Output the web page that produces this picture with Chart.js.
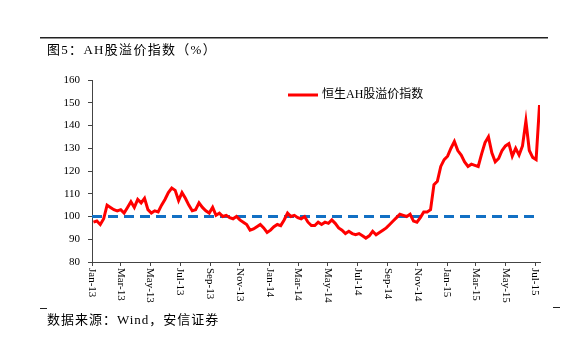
<!DOCTYPE html>
<html>
  <head>
    <meta charset="utf-8" />
    <script src="https://cdn.jsdelivr.net/npm/chart.js@4"></script>
    <style>
      body { margin: 0; background: #fff; }
      #wrap { width: 582px; height: 343px; }
    </style>
  </head>
  <body>
    <div id="wrap"><canvas id="canvas"></canvas></div>
    <script>
      // weekly readings of the Hang Seng AH premium index, first one on 2013-01-04
      const firstWeek = '2013-01-04';
      const premium = [
        97.5, 98, 96.5, 99, 105, 104, 103, 102.5, 103, 101.5,
        104, 106.5, 104, 107.5, 106, 108, 103, 101.5, 102.5, 102,
        105, 107.5, 110.5, 112.5, 111.5, 107, 110.5, 108, 105, 102.5,
        103, 106, 104, 102.5, 101.5, 104, 100.5, 101.5, 100, 100.5,
        99.5, 99, 100, 98.5, 97.5, 96.5, 94, 94.5, 95.5, 96.5,
        95, 93, 94, 95.5, 96.5, 96, 98.5, 101.5, 100, 100.5,
        99.5, 99, 100, 97.5, 96, 96, 97.5, 96.5, 97.5, 97,
        98.5, 97, 95, 94, 92.5, 93.5, 92.5, 92, 92.5, 91.5,
        90.5, 91.5, 93.5, 92, 93, 94, 95, 96.5, 98, 99.5,
        101, 100.5, 100, 101, 98, 97.5, 99.5, 102, 102, 103,
        114, 115.5, 122, 125, 126.5, 130, 133, 129, 127, 124,
        122, 123, 122.5, 122, 127.5, 132.5, 135, 128, 124, 125.5,
        129, 131, 132, 126.5, 130, 127, 131, 142, 129, 126,
        125, 149
      ];
      const baseline = 100;
      const tickLabels = ['Jan-13', 'Mar-13', 'May-13', 'Jul-13', 'Sep-13', 'Nov-13',
        'Jan-14', 'Mar-14', 'May-14', 'Jul-14', 'Sep-14', 'Nov-14',
        'Jan-15', 'Mar-15', 'May-15', 'Jul-15'];
      const yMin = 80, yMax = 160, yStep = 10;
      const lastDay = '2015-07-11';

      const months = ['Jan', 'Feb', 'Mar', 'Apr', 'May', 'Jun', 'Jul', 'Aug', 'Sep', 'Oct', 'Nov', 'Dec'];
      const day0 = Date.UTC(2013, 0, 1);
      const dayOf = (s) => (Date.parse(s + 'T00:00:00Z') - day0) / 864e5;
      const tickDays = tickLabels.map((l) => {
        const [m, y] = l.split('-');
        return (Date.UTC(2000 + Number(y), months.indexOf(m), 1) - day0) / 864e5;
      });
      const start = dayOf(firstWeek);
      const xMax = dayOf(lastDay);

      const serif = '"Liberation Serif", "Noto Sans CJK SC"';

      const decor = {
        id: 'decor',
        afterDraw(chart) {
          const ctx = chart.ctx, xs = chart.scales.x, area = chart.chartArea;
          ctx.save();
          ctx.fillStyle = '#000';
          // month labels, reading top to bottom
          ctx.font = '11px ' + serif;
          ctx.textAlign = 'left';
          ctx.textBaseline = 'middle';
          tickDays.forEach((d, i) => {
            ctx.save();
            ctx.translate(xs.getPixelForValue(d), area.bottom + 6);
            ctx.rotate(Math.PI / 2);
            ctx.fillText(tickLabels[i], 0, 0);
            ctx.restore();
          });
          // legend
          ctx.strokeStyle = '#ff0000';
          ctx.lineWidth = 3;
          ctx.beginPath();
          ctx.moveTo(288, 95);
          ctx.lineTo(318, 95);
          ctx.stroke();
          ctx.font = '12px ' + serif;
          ctx.fillText('恒生AH股溢价指数', 322, 95);
          // title, source and rules
          ctx.font = '13px ' + serif;
          ctx.letterSpacing = '1.3px';
          ctx.fillText('图5：AH股溢价指数（%）', 47, 51);
          ctx.letterSpacing = '1px';
          ctx.fillText('数据来源：Wind，安信证券', 47, 321);
          ctx.fillStyle = '#222';
          ctx.fillRect(40, 37, 508, 1.5);
          ctx.fillRect(40, 308, 7, 1);
          ctx.fillRect(553, 307, 7, 1);
          ctx.restore();
        }
      };

      new Chart(document.getElementById('canvas'), {
        type: 'line',
        data: {
          datasets: [
            {
              label: '恒生AH股溢价指数',
              data: premium.map((v, i) => ({ x: start + 7 * i, y: v })),
              borderColor: '#ff0000',
              borderWidth: 3,
              pointRadius: 0,
              tension: 0,
            },
            {
              label: 'baseline',
              data: [{ x: 0, y: baseline }, { x: xMax, y: baseline }],
              borderColor: '#1270c4',
              borderWidth: 3,
              borderDash: [10, 6],
              pointRadius: 0,
            },
          ],
        },
        options: {
          responsive: true,
          maintainAspectRatio: false,
          animation: false,
          layout: { padding: { top: 80, right: 42, left: 0, bottom: 0 } },
          plugins: { legend: { display: false }, tooltip: { enabled: false } },
          scales: {
            x: {
              type: 'linear',
              min: 0,
              max: xMax,
              afterBuildTicks: (s) => { s.ticks = tickDays.map((v) => ({ value: v })); },
              afterFit: (s) => { s.height = 81; },
              ticks: { display: false },
              grid: { drawOnChartArea: false, tickLength: 4, color: '#444' },
              border: { color: '#444' },
            },
            y: {
              min: yMin,
              max: yMax,
              afterFit: (s) => { s.width = 92; },
              ticks: { stepSize: yStep, padding: 8, color: '#000', font: { family: serif, size: 11 } },
              grid: { drawOnChartArea: false, tickLength: 4, color: '#444' },
              border: { color: '#444' },
            },
          },
        },
        plugins: [decor],
      });
    </script>
  </body>
</html>
